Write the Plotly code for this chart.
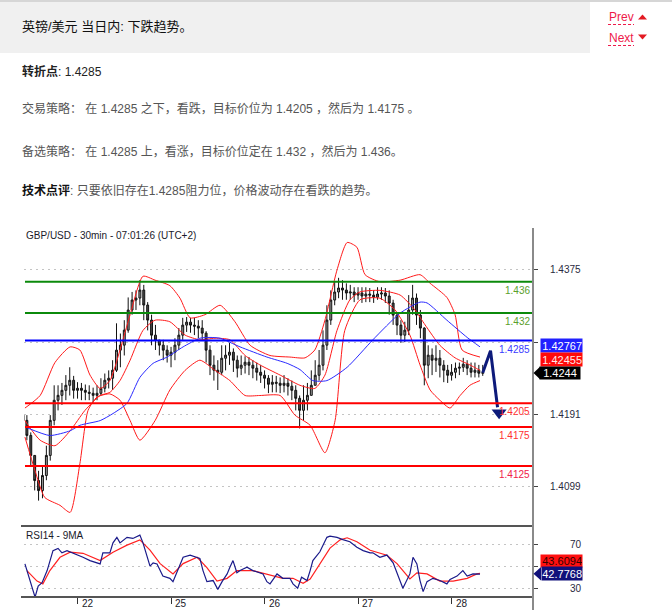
import plotly.graph_objects as go

W, H = 672, 614
def fx(x): return x / W
def fy(y): return 1 - y / H

LAT = "Liberation Sans, Arial, sans-serif"
CJK = "Liberation Sans, Noto Sans CJK SC, sans-serif"

# ---------------- data ----------------
hours = list(range(119))
first_open = 1.4190
closes = [
    1.41833, 1.41641, 1.41386, 1.41066, 1.40938, 1.41130, 1.41386, 1.41833, 1.42089, 1.42152,
    1.42216, 1.42280, 1.42344, 1.42216, 1.42242, 1.42216, 1.42191, 1.42178, 1.42152, 1.42178,
    1.42242, 1.42344, 1.42370, 1.42472, 1.42728, 1.42792, 1.42983, 1.43239, 1.43367, 1.43392,
    1.43494, 1.43303, 1.43111, 1.42919, 1.42855, 1.42792, 1.42728, 1.42664, 1.42702, 1.42792,
    1.42919, 1.43047, 1.43085, 1.43047, 1.43034, 1.43009, 1.42945, 1.42728, 1.42536, 1.42472,
    1.42446, 1.42625, 1.42664, 1.42702, 1.42600, 1.42498, 1.42536, 1.42574, 1.42536, 1.42498,
    1.42446, 1.42408, 1.42370, 1.42293, 1.42319, 1.42306, 1.42280, 1.42306, 1.42268, 1.42216,
    1.42114, 1.41961, 1.42089, 1.42152, 1.42280, 1.42408, 1.42536, 1.42792, 1.43111, 1.43367,
    1.43469, 1.43520, 1.43494, 1.43456, 1.43469, 1.43430, 1.43456, 1.43418, 1.43443, 1.43430,
    1.43405, 1.43443, 1.43456, 1.43418, 1.43328, 1.43175, 1.43047, 1.42919, 1.42983, 1.43239,
    1.43392, 1.43175, 1.43009, 1.42536, 1.42664, 1.42600, 1.42625, 1.42536, 1.42472, 1.42408,
    1.42446, 1.42498, 1.42510, 1.42549, 1.42498, 1.42446, 1.42472, 1.42434, 1.42440]
highs = [
    1.4196, 1.4190, 1.4168, 1.4139, 1.4119, 1.4126, 1.4151, 1.4190, 1.4228, 1.4228,
    1.4231, 1.4241, 1.4251, 1.4240, 1.4232, 1.4231, 1.4229, 1.4228, 1.4225, 1.4228,
    1.4237, 1.4243, 1.4247, 1.4260, 1.4307, 1.4294, 1.4311, 1.4340, 1.4347, 1.4349,
    1.4362, 1.4356, 1.4334, 1.4318, 1.4305, 1.4286, 1.4286, 1.4279, 1.4277, 1.4288,
    1.4301, 1.4314, 1.4315, 1.4314, 1.4314, 1.4311, 1.4311, 1.4297, 1.4279, 1.4266,
    1.4260, 1.4279, 1.4279, 1.4282, 1.4275, 1.4266, 1.4266, 1.4265, 1.4264, 1.4260,
    1.4257, 1.4254, 1.4247, 1.4241, 1.4241, 1.4240, 1.4238, 1.4241, 1.4237, 1.4234,
    1.4228, 1.4215, 1.4228, 1.4231, 1.4247, 1.4260, 1.4273, 1.4298, 1.4330, 1.4349,
    1.4360, 1.4365, 1.4362, 1.4358, 1.4356, 1.4353, 1.4353, 1.4353, 1.4353, 1.4352,
    1.4349, 1.4353, 1.4353, 1.4352, 1.4349, 1.4337, 1.4321, 1.4311, 1.4309, 1.4343,
    1.4356, 1.4345, 1.4324, 1.4302, 1.4279, 1.4275, 1.4279, 1.4273, 1.4260, 1.4254,
    1.4255, 1.4257, 1.4257, 1.4263, 1.4260, 1.4257, 1.4257, 1.4254, 1.4254]
lows = [
    1.4177, 1.4158, 1.4126, 1.4094, 1.4081, 1.4084, 1.4107, 1.4132, 1.4177, 1.4196,
    1.4203, 1.4209, 1.4215, 1.4211, 1.4211, 1.4209, 1.4209, 1.4209, 1.4206, 1.4209,
    1.4215, 1.4219, 1.4224, 1.4222, 1.4245, 1.4251, 1.4266, 1.4295, 1.4318, 1.4324,
    1.4330, 1.4311, 1.4298, 1.4279, 1.4273, 1.4266, 1.4260, 1.4257, 1.4251, 1.4260,
    1.4273, 1.4286, 1.4296, 1.4295, 1.4292, 1.4288, 1.4286, 1.4257, 1.4241, 1.4234,
    1.4222, 1.4241, 1.4247, 1.4254, 1.4245, 1.4238, 1.4241, 1.4243, 1.4241, 1.4237,
    1.4234, 1.4231, 1.4224, 1.4218, 1.4219, 1.4219, 1.4218, 1.4219, 1.4215, 1.4209,
    1.4196, 1.4173, 1.4183, 1.4196, 1.4215, 1.4228, 1.4234, 1.4247, 1.4273, 1.4305,
    1.4330, 1.4339, 1.4337, 1.4337, 1.4337, 1.4334, 1.4337, 1.4333, 1.4334, 1.4334,
    1.4333, 1.4337, 1.4337, 1.4333, 1.4318, 1.4305, 1.4292, 1.4282, 1.4283, 1.4292,
    1.4318, 1.4305, 1.4288, 1.4228, 1.4237, 1.4241, 1.4245, 1.4238, 1.4232, 1.4231,
    1.4234, 1.4237, 1.4241, 1.4245, 1.4241, 1.4238, 1.4238, 1.4238, 1.4240]
opens = [first_open] + closes[:-1]

# Bollinger bands
bb_up_x = [0.5, 4.4, 8.2, 12.1, 14.6, 17.2, 19.8, 22.3, 24.9, 27.5, 30.8, 33.9, 37.7, 40.3, 42.9,
           46.7, 50.6, 54.4, 58.3, 63.4, 68.5, 72.4, 74.9, 77.5, 80.6, 83.2, 85.7, 87.8, 91.6,
           96.8, 101.9, 104.5, 108.8, 110.9, 112.7, 117.3]
bb_up = [1.4199, 1.4215, 1.4257, 1.4277, 1.4273, 1.4241, 1.4224, 1.4234, 1.4273, 1.4318, 1.4367,
         1.4362, 1.4355, 1.4339, 1.4314, 1.4318, 1.4330, 1.4309, 1.4279, 1.4266, 1.4264, 1.4263,
         1.4273, 1.4311, 1.4375, 1.4410, 1.4404, 1.4369, 1.4360, 1.4362, 1.4369, 1.4358, 1.4340,
         1.4318, 1.4273, 1.4264]
bb_mid_x = [0.5, 4.4, 8.2, 12.1, 15.9, 19.8, 22.3, 24.9, 27.5, 30.8, 33.9, 37.7, 41.6, 45.4, 49.3,
            53.1, 57.0, 60.8, 66.0, 71.1, 74.9, 77.5, 80.6, 83.9, 86.5, 91.6, 96.8, 100.6, 103.2,
            107.0, 110.9, 114.7, 117.3]
bb_mid = [1.4183, 1.4158, 1.4151, 1.4170, 1.4196, 1.4215, 1.4219, 1.4234, 1.4260, 1.4298, 1.4311,
          1.4309, 1.4292, 1.4286, 1.4288, 1.4286, 1.4266, 1.4254, 1.4241, 1.4228, 1.4224, 1.4241,
          1.4298, 1.4337, 1.4347, 1.4349, 1.4343, 1.4324, 1.4305, 1.4279, 1.4263, 1.4254, 1.4247]
bb_low_x = [0.5, 3.1, 5.6, 9.5, 12.1, 14.6, 16.7, 19.0, 22.3, 24.9, 27.5, 30.0, 33.9, 37.7, 41.6,
            45.4, 49.3, 53.1, 57.0, 60.8, 66.0, 69.8, 73.7, 77.5, 80.1, 82.6, 86.5, 91.6, 95.5,
            99.3, 101.9, 104.5, 107.0, 109.6, 112.2, 114.7, 117.3]
bb_low = [1.4162, 1.4119, 1.4085, 1.4075, 1.4066, 1.4128, 1.4196, 1.4213, 1.4217, 1.4209, 1.4183,
          1.4158, 1.4183, 1.4222, 1.4247, 1.4260, 1.4247, 1.4234, 1.4215, 1.4215, 1.4215, 1.4190,
          1.4177, 1.4142, 1.4183, 1.4298, 1.4337, 1.4339, 1.4324, 1.4292, 1.4254, 1.4222, 1.4209,
          1.4199, 1.4215, 1.4228, 1.4234]

# blue moving average
ma_x = [1.0, 6.9, 12.1, 14.6, 19.8, 23.1, 26.7, 30.0, 33.4, 37.0, 41.1, 45.4, 48.0, 50.6, 55.7,
        62.6, 67.8, 71.1, 74.4, 78.0, 83.2, 89.8, 96.8, 101.9, 103.7, 108.8, 114.0, 117.3]
ma = [1.4174, 1.4164, 1.4170, 1.4177, 1.4183, 1.4192, 1.4205, 1.4238, 1.4256, 1.4264, 1.4277,
      1.4288, 1.4289, 1.4288, 1.4277, 1.4264, 1.4256, 1.4248, 1.4234, 1.4234, 1.4251, 1.4286,
      1.4320, 1.4334, 1.4333, 1.4311, 1.4289, 1.4277]

# forecast arrow
fc_x = [118, 120.0, 121.8]
fc_y = [1.4244, 1.4272, 1.4200]
fc_head_x = [122.2]
fc_head_y = [1.4193]

# RSI and its 9MA
rsi_x = [0.5, 1.8, 3.1, 3.9, 4.9, 6.2, 7.7, 9.0, 10, 11.3, 12.8, 15.4, 17.2, 19.8, 20.5, 22.3, 23.1,
         24.1, 24.9, 26.7, 28.2, 30, 30.8, 31.8, 32.6, 33.4, 34.4, 35.9, 37.7, 38.5, 39.5, 41.1,
         42.9, 45.4, 46.2, 47.2, 48.8, 50, 51.1, 52.4, 53.1, 53.9, 54.9, 55.7, 57.5, 59, 61.6,
         62.6, 63.4, 65.2, 66.7, 68.5, 69.3, 70.5, 71.5, 72.9, 73.7, 74.4, 76.2, 77, 78, 78.8,
         80.6, 82.1, 83.9, 85.7, 87.3, 89.1, 89.8, 91.6, 93.4, 95, 96, 97.5, 99.3, 100.1, 101.1,
         101.9, 102.7, 103.7, 105.2, 107, 108.8, 109.6, 111.4, 112.9, 114, 115.5, 117.3]
rsi = [52, 37, 22, 32, 35, 46, 64, 66, 62, 64, 62, 58, 55, 52, 62, 62, 71, 76, 71, 76,
       75, 78, 71, 58, 50, 53, 52, 41, 39, 36, 44, 58, 60, 57, 46, 36, 37, 29, 36, 43,
       49, 55, 44, 46, 49, 46, 43, 36, 34, 43, 39, 39, 34, 30, 40, 37, 46, 55, 63, 69,
       76, 77, 76, 74, 72, 67, 64, 62, 62, 58, 60, 53, 43, 30, 43, 58, 52, 37, 27, 36,
       39, 37, 34, 38, 41, 46, 41, 43, 42.8]
rsi_ma_x = [1, 3.6, 5.1, 6.9, 9.5, 12.1, 15.4, 19.8, 23.1, 26.7, 30, 32.6, 35.2, 38.5, 41.1, 44.7,
            47.2, 49.8, 52.4, 54.9, 59, 62.6, 66.7, 69.3, 71.9, 73.7, 76.2, 78.8, 81.4, 83.2,
            85.7, 89.1, 93.4, 96, 99.3, 101.1, 103.7, 107, 110.4, 114, 116.5, 117.3]
rsi_ma = [46, 36.5, 34, 46, 58, 62.6, 61.6, 55, 62.6, 69, 73.7, 64.4, 52.3, 43, 52.3, 58, 48.6,
          36.5, 39, 46, 46, 43, 39, 39, 34.6, 38.4, 52.3, 66.3, 73.7, 75.6, 72, 64.4, 59.8,
          52.3, 38.4, 44, 43, 36.5, 36.5, 39, 43, 43.6]

day_ticks = [14, 38, 62, 86, 110]
day_labels = ["22", "25", "26", "27", "28"]
price_ticks = [1.4099, 1.4191, 1.4283, 1.4375]
price_tick_text = ["1.4099", "1.4191", "", "1.4375"]   # 1.4283 is hidden under the value boxes
rsi_ticks = [30, 50, 70]
rsi_tick_text = ["30", "", "70"]

levels = [1.436, 1.432, 1.4285, 1.4205, 1.4175, 1.4125]
level_text = ["1.436", "1.432", "1.4285", "1.4205", "1.4175", "1.4125"]
last_ma50, last_ma20, last_close = 1.42767, 1.42455, 1.4244
last_rsi_ma, last_rsi = 43.6094, 42.7768

# ---------------- styles ----------------
level_line_colors = ["#0b8a0b", "#0b8a0b", "#0000ff", "#ff0000", "#ff0000", "#ff0000"]
level_text_colors = ["#5aa02c", "#5aa02c", "#3a3aff", "#ff3030", "#ff3030", "#f0204a"]

X0, X1 = 24, 533
PT, PB = 228, 524
RT, RB = 526, 597
x_range = [0.26, 130.9]
p_range = [1.40512, 1.44285]
r_range = [22.14, 86.25]

fig = go.Figure()

fig.add_trace(go.Candlestick(
    x=hours, open=opens, high=highs, low=lows, close=closes,
    increasing=dict(line=dict(color="#111111", width=1), fillcolor="#9c9c9c"),
    decreasing=dict(line=dict(color="#111111", width=1), fillcolor="#4a4a4a"),
    whiskerwidth=0, showlegend=False, hoverinfo="skip", xaxis="x", yaxis="y"))

for bx, by in [(bb_up_x, bb_up), (bb_mid_x, bb_mid), (bb_low_x, bb_low)]:
    fig.add_trace(go.Scatter(x=bx, y=by, mode="lines", line=dict(color="#ff1a1a", width=1, shape="spline", smoothing=0.6),
                             showlegend=False, hoverinfo="skip", xaxis="x", yaxis="y"))
fig.add_trace(go.Scatter(x=ma_x, y=ma, mode="lines", line=dict(color="#2a2aff", width=1, shape="spline", smoothing=0.6),
                         showlegend=False, hoverinfo="skip", xaxis="x", yaxis="y"))
fig.add_trace(go.Scatter(x=fc_x, y=fc_y, mode="lines", line=dict(color="#0d1a7a", width=3),
                         showlegend=False, hoverinfo="skip", xaxis="x", yaxis="y", cliponaxis=False))
fig.add_trace(go.Scatter(x=fc_head_x, y=fc_head_y, mode="markers",
                         marker=dict(symbol="triangle-down", size=13, color="#0d1a7a"),
                         showlegend=False, hoverinfo="skip", xaxis="x", yaxis="y", cliponaxis=False))

fig.add_trace(go.Scatter(x=rsi_ma_x, y=rsi_ma, mode="lines", line=dict(color="#ff2020", width=1.2),
                         showlegend=False, hoverinfo="skip", xaxis="x", yaxis="y2"))
fig.add_trace(go.Scatter(x=rsi_x, y=rsi, mode="lines", line=dict(color="#1a1a8a", width=1.2),
                         showlegend=False, hoverinfo="skip", xaxis="x", yaxis="y2"))

shapes = []
ann = []

def A(**kw):
    kw.setdefault("showarrow", False)
    kw.setdefault("xref", "paper")
    kw.setdefault("yref", "paper")
    ann.append(kw)

# header
shapes.append(dict(type="rect", xref="paper", yref="paper", x0=fx(0), x1=fx(590), y0=fy(53), y1=fy(2),
                   fillcolor="#f0f0f0", line=dict(width=0), layer="below"))
shapes.append(dict(type="line", xref="paper", yref="paper", x0=0, x1=1, y0=fy(1), y1=fy(1),
                   line=dict(color="#d6d6d6", width=2)))
A(text="英镑/美元 当日内: 下跌趋势。", x=fx(20), y=fy(26), xanchor="left", yanchor="middle",
  font=dict(family=CJK, size=13, color="#111111"))
red_nav = "#ee1a4a"
A(text="Prev", x=fx(607), y=fy(17), xanchor="left", yanchor="middle",
  font=dict(family=LAT, size=12, color=red_nav))
A(text="Next", x=fx(607), y=fy(38), xanchor="left", yanchor="middle",
  font=dict(family=LAT, size=12, color=red_nav))
for yy in (24.5, 45.5):
    shapes.append(dict(type="line", xref="paper", yref="paper", x0=fx(608), x1=fx(634), y0=fy(yy), y1=fy(yy),
                       line=dict(color=red_nav, width=1, dash="3px,2px")))
shapes.append(dict(type="path", xref="paper", yref="paper",
                   path=f"M {fx(638)} {fy(19.5)} L {fx(647)} {fy(19.5)} L {fx(642.5)} {fy(14.5)} Z",
                   fillcolor="#e31b23", line=dict(width=0)))
shapes.append(dict(type="path", xref="paper", yref="paper",
                   path=f"M {fx(638)} {fy(34.5)} L {fx(647)} {fy(34.5)} L {fx(642.5)} {fy(39.5)} Z",
                   fillcolor="#e31b23", line=dict(width=0)))

body_grey = "#555555"
A(text="<b>转折点</b>: 1.4285", x=fx(20), y=fy(71), xanchor="left", yanchor="middle",
  font=dict(family=CJK, size=12, color="#222222"))
A(text="交易策略： 在 1.4285 之下，看跌，目标价位为 1.4205 ，然后为 1.4175 。", x=fx(20), y=fy(109),
  xanchor="left", yanchor="middle", font=dict(family=CJK, size=12, color=body_grey))
A(text="备选策略： 在 1.4285 上，看涨，目标价位定在 1.432 ，然后为 1.436。", x=fx(20), y=fy(151),
  xanchor="left", yanchor="middle", font=dict(family=CJK, size=12, color=body_grey))
A(text="<b><span style='color:#111'>技术点评</span></b>: 只要依旧存在1.4285阻力位，价格波动存在看跌的趋势。",
  x=fx(20), y=fy(190), xanchor="left", yanchor="middle",
  font=dict(family=CJK, size=12, color=body_grey))

# chart titles
A(text="GBP/USD - 30min - 07:01:26 (UTC+2)", x=fx(24), y=fy(236), xanchor="left", yanchor="middle",
  font=dict(family=LAT, size=10, color="#1a1a2a"))
A(text="RSI14 - 9MA", x=fx(24), y=fy(535), xanchor="left", yanchor="middle",
  font=dict(family=LAT, size=10, color="#1a1a2a"))

# level lines and labels
for lv, txt, lc, tc in zip(levels, level_text, level_line_colors, level_text_colors):
    shapes.append(dict(type="line", xref="paper", yref="y", x0=fx(25), x1=fx(533), y0=lv, y1=lv,
                       line=dict(color=lc, width=2), layer="above"))
    A(text=txt, yref="y", x=fx(532), y=lv, xanchor="right", yanchor="top",
      yshift=-1, font=dict(family=LAT, size=10, color=tc))

# panel frame lines
shapes.append(dict(type="line", xref="paper", yref="paper", x0=fx(21), x1=fx(533), y0=fy(RT), y1=fy(RT),
                   line=dict(color="#555555", width=2)))
shapes.append(dict(type="line", xref="paper", yref="paper", x0=fx(21), x1=fx(533), y0=fy(RB), y1=fy(RB),
                   line=dict(color="#555555", width=2)))
shapes.append(dict(type="line", xref="paper", yref="paper", x0=fx(533), x1=fx(533), y0=fy(228), y1=fy(610),
                   line=dict(color="#8a8a8a", width=2)))

# value boxes on the price axis
A(text=f"{last_ma50:.5f}", x=fx(540), y=fy(345.7), xanchor="left", yanchor="middle",
  width=41, height=13, bgcolor="#2020ff", borderpad=0, align="right",
  font=dict(family=LAT, size=11, color="white"))
A(text=f"{last_ma20:.5f}", x=fx(540), y=fy(359), xanchor="left", yanchor="middle",
  width=41, height=13, bgcolor="#ff0a0a", borderpad=0, align="right",
  font=dict(family=LAT, size=11, color="#ffe8e8"))
A(text=f"{last_close:.4f}", x=fx(539), y=fy(373), xanchor="left", yanchor="middle",
  width=40, height=12, bgcolor="#000000", borderpad=0, align="center",
  font=dict(family=LAT, size=11, color="white"))
shapes.append(dict(type="path", xref="paper", yref="paper",
                   path=f"M {fx(533.5)} {fy(373)} L {fx(540)} {fy(366.8)} L {fx(540)} {fy(379.2)} Z",
                   fillcolor="#000000", line=dict(width=0)))
# value boxes on the RSI axis
A(text=f"{last_rsi_ma:.4f}", x=fx(540), y=fy(560.5), xanchor="left", yanchor="middle",
  width=41, height=12, bgcolor="#ff1010", borderpad=0, align="right",
  font=dict(family=LAT, size=11, color="#330000"))
A(text=f"{last_rsi:.4f}", x=fx(541), y=fy(573.7), xanchor="left", yanchor="middle",
  width=40, height=13, bgcolor="#10107a", borderpad=0, align="right",
  font=dict(family=LAT, size=11, color="white"))
shapes.append(dict(type="path", xref="paper", yref="paper",
                   path=f"M {fx(533.5)} {fy(573.7)} L {fx(541)} {fy(566.9)} L {fx(541)} {fy(580.6)} Z",
                   fillcolor="#10107a", line=dict(width=0)))

# day labels
for t, lab in zip(day_ticks, day_labels):
    A(text=lab, xref="x", x=t, y=fy(603.5), xanchor="left", yanchor="middle",
      xshift=2, font=dict(family=LAT, size=10, color="#1a1a2a"))

fig.update_layout(
    width=W, height=H, margin=dict(l=0, r=0, t=0, b=0),
    paper_bgcolor="white", plot_bgcolor="white", showlegend=False,
    shapes=shapes, annotations=ann,
    xaxis=dict(domain=[fx(X0), fx(X1)], range=x_range, anchor="y2", showgrid=False, zeroline=False,
               tickvals=day_ticks, ticks="outside", ticklen=6, tickcolor="#333333", tickwidth=1,
               showticklabels=False, rangeslider=dict(visible=False), showline=False, fixedrange=True),
    yaxis=dict(domain=[fy(PB), fy(PT)], range=p_range, side="right", anchor="x",
               tickvals=price_ticks, ticktext=price_tick_text, ticks="outside", ticklen=4,
               tickcolor="#444444", showgrid=True, gridcolor="#c4c4c4", griddash="2px,4px", gridwidth=1,
               zeroline=False, showline=False, ticklabelstandoff=10,
               tickfont=dict(family=LAT, size=10, color="#2a2a40"), fixedrange=True),
    yaxis2=dict(domain=[fy(RB), fy(RT)], range=r_range, side="right", anchor="x",
                tickvals=rsi_ticks, ticktext=rsi_tick_text, ticks="outside", ticklen=4,
                tickcolor="#444444", showgrid=True, gridcolor="#c4c4c4", griddash="2px,4px", gridwidth=1,
                zeroline=False, showline=False, ticklabelstandoff=30,
                tickfont=dict(family=LAT, size=10, color="#2a2a40"), fixedrange=True),
)

fig.write_html("out.html", config={"displayModeBar": False},
               post_script="document.body.style.margin='0';document.body.style.overflow='hidden';")
